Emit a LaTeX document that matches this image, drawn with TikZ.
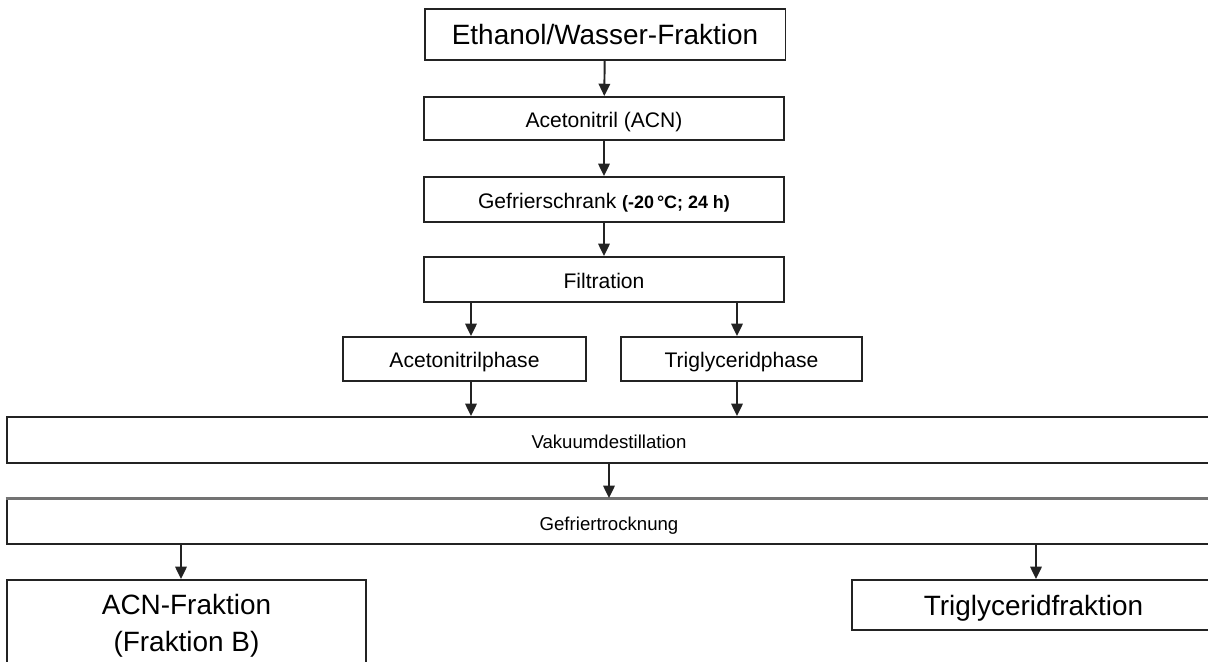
\documentclass[tikz,border=0pt]{standalone}
\usepackage{fontspec}
\setmainfont{Liberation Sans}
\usepackage{tikz}
\usetikzlibrary{arrows.meta}
\definecolor{BoxLine}{RGB}{35,35,35}
\definecolor{TopLine}{RGB}{115,115,115}

\begin{document}
\begin{tikzpicture}[x=0.02cm, y=-0.02cm,
  box/.style={draw=BoxLine, line width=1.1pt, inner sep=0pt, align=center,
              text height=10pt, text depth=0pt,
              font=\fontsize{12}{14}\selectfont},
  bigbox/.style={box, text height=11.5pt, font=\fontsize{15.9}{21}\selectfont},
  flow/.style={BoxLine, line width=1.1pt, -{Triangle[length=7pt, width=6.5pt]}}]

  \useasboundingbox (0,0) rectangle (1208,662);

  % --- Steps of the work-up ---
  \node[bigbox, minimum width=7.22cm, minimum height=1.02cm] (etw) at (605, 34.5)
      {Ethanol/Wasser-Fraktion};
  \node[box, minimum width=7.2cm, minimum height=0.86cm] (acn) at (604, 118.5)
      {Acetonitril (ACN)};
  \node[box, minimum width=7.2cm, minimum height=0.9cm] (gefr) at (604, 199.5)
      {Gefrierschrank {\fontsize{10.2}{12}\selectfont\bfseries (-20\,°C; 24 h)}};
  \node[box, minimum width=7.2cm, minimum height=0.9cm] (filt) at (604, 279.5)
      {Filtration};

  % --- The two phases ---
  \node[box, minimum width=4.86cm, minimum height=0.88cm] (acnph) at (464.5, 359)
      {Acetonitrilphase};
  \node[box, minimum width=4.82cm, minimum height=0.88cm] (trph) at (741.5, 359)
      {Triglyceridphase};

  % --- Common steps, full width ---
  \node[box, minimum width=24.1cm, minimum height=0.92cm,
        font=\fontsize{10.6}{13}\selectfont] (vak) at (609, 440)
      {Vakuumdestillation};
  \node[box, minimum width=24.1cm, minimum height=0.9cm,
        font=\fontsize{10.6}{13}\selectfont] (gtr) at (609, 521.5)
      {Gefriertrocknung};
  \draw[TopLine, line width=1.7pt] (gtr.north west) -- (gtr.north east);

  % --- Fractions ---
  \node[bigbox, text height=, text depth=, minimum width=7.18cm, minimum height=1.82cm]
      (acnfr) at (186.5, 625.5) {ACN-Fraktion\\(Fraktion B)};
  \node[bigbox, minimum width=7.26cm, minimum height=1.0cm] (trfr) at (1033.5, 605)
      {Triglyceridfraktion};

  % --- Arrows ---
  \draw[flow] (etw) -- (acn);
  \draw[flow] (acn) -- (gefr);
  \draw[flow] (gefr) -- (filt);
  \draw[flow] ([xshift=0.13cm]acnph.north |- filt.south) -- ([xshift=0.13cm]acnph.north);
  \draw[flow] ([xshift=-0.09cm]trph.north |- filt.south) -- ([xshift=-0.09cm]trph.north);
  \draw[flow] ([xshift=0.13cm]acnph.south) -- ([xshift=0.13cm]acnph.south |- vak.north);
  \draw[flow] ([xshift=-0.09cm]trph.south) -- ([xshift=-0.09cm]trph.south |- vak.north);
  \draw[flow] (vak) -- (gtr);
  \draw[flow] ([xshift=-0.11cm]acnfr.north |- gtr.south) -- ([xshift=-0.11cm]acnfr.north);
  \draw[flow] ([xshift=0.05cm]trfr.north |- gtr.south) -- ([xshift=0.05cm]trfr.north);

\end{tikzpicture}
\end{document}
